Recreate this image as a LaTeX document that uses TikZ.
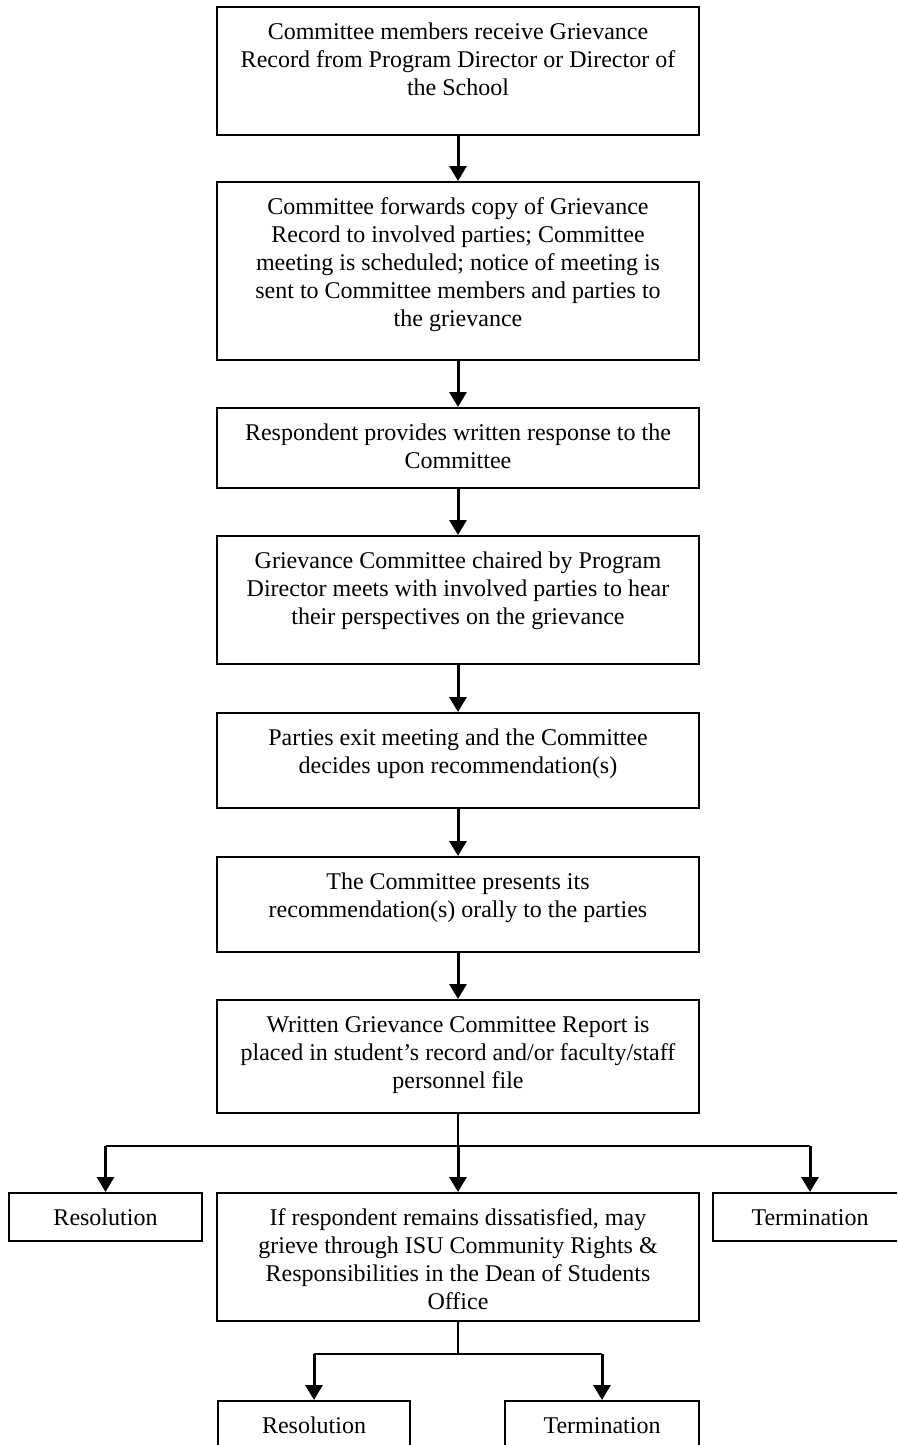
\documentclass[tikz,border=0pt]{standalone}
\usepackage{fontspec}
\setmainfont{Liberation Serif}
\usetikzlibrary{arrows.meta,calc}
\newcommand{\toprule}{\vrule height 18pt depth 0pt width 0pt}
\begin{document}
\begin{tikzpicture}[x=1pt,y=-1pt,
  box/.style={draw, line width=2pt, inner sep=0pt, anchor=north west},
  txt/.style={align=center, anchor=north, inner sep=0pt, font=\fontsize{24}{28}\selectfont},
  arr/.style={line width=3pt, -{Triangle[width=17pt,length=15pt]}},
  ln/.style={line width=2.6pt}]
\useasboundingbox (0,0) rectangle (897,1445);
\clip (0,0) rectangle (897,1445);
% main column boxes
\node[box, minimum width=482pt, minimum height=128pt] (b1) at (216,6) {};
\node[box, minimum width=482pt, minimum height=178pt] (b2) at (216,181) {};
\node[box, minimum width=482pt, minimum height=80pt]  (b3) at (216,407) {};
\node[box, minimum width=482pt, minimum height=128pt] (b4) at (216,535) {};
\node[box, minimum width=482pt, minimum height=95pt]  (b5) at (216,712) {};
\node[box, minimum width=482pt, minimum height=95pt]  (b6) at (216,856) {};
\node[box, minimum width=482pt, minimum height=113pt] (b7) at (216,999) {};
\node[box, minimum width=482pt, minimum height=128pt] (b8) at (216,1192) {};
\node[box, minimum width=193pt, minimum height=48pt]  (r1) at (8,1192) {};
\node[box, minimum width=194pt, minimum height=48pt]  (m1) at (712,1192) {};
\node[box, minimum width=192pt, minimum height=80pt]  (r2) at (217,1400) {};
\node[box, minimum width=194pt, minimum height=80pt]  (m2) at (504,1400) {};
% texts
\node[txt] (t1) at ($(b1.north)+(0,15)$) {\toprule Committee members receive Grievance\\Record from Program Director or Director of\\the School};
\node[txt] (t2) at ($(b2.north)+(0,15)$) {\toprule Committee forwards copy of Grievance\\Record to involved parties; Committee\\meeting is scheduled; notice of meeting is\\sent to Committee members and parties to\\the grievance};
\node[txt] (t3) at ($(b3.north)+(0,15)$) {\toprule Respondent provides written response to the\\Committee};
\node[txt] (t4) at ($(b4.north)+(0,15)$) {\toprule Grievance Committee chaired by Program\\Director meets with involved parties to hear\\their perspectives on the grievance};
\node[txt] (t5) at ($(b5.north)+(0,15)$) {\toprule Parties exit meeting and the Committee\\decides upon recommendation(s)};
\node[txt] (t6) at ($(b6.north)+(0,15)$) {\toprule The Committee presents its\\recommendation(s) orally to the parties};
\node[txt] (t7) at ($(b7.north)+(0,15)$) {\toprule Written Grievance Committee Report is\\placed in student’s record and/or faculty/staff\\personnel file};
\node[txt] (t8) at ($(b8.north)+(0,15)$) {\toprule If respondent remains dissatisfied, may\\grieve through ISU Community Rights \&\\Responsibilities in the Dean of Students\\Office};
\node[txt] (tr1) at ($(r1.north)+(0,15)$) {\toprule Resolution};
\node[txt] (tm1) at ($(m1.north)+(0,15)$) {\toprule Termination};
\node[txt] (tr2) at ($(r2.north)+(0,15)$) {\toprule Resolution};
\node[txt] (tm2) at ($(m2.north)+(0,15)$) {\toprule Termination};
% connectors
\draw[arr] (b1.south) -- (b2.north);
\draw[arr] (b2.south) -- (b3.north);
\draw[arr] (b3.south) -- (b4.north);
\draw[arr] (b4.south) -- (b5.north);
\draw[arr] (b5.south) -- (b6.north);
\draw[arr] (b6.south) -- (b7.north);
\coordinate (j1) at ($(b7.south)+(0,32)$);
\coordinate (j2) at ($(b8.south)+(0,32)$);
\draw[ln] (b7.south) -- (j1);
\draw[ln] (r1.north |- j1) -- (m1.north |- j1);
\draw[arr] (j1) -- (b8.north);
\draw[arr] (r1.north |- j1) -- (r1.north);
\draw[arr] (m1.north |- j1) -- (m1.north);
\draw[ln] (b8.south) -- (j2);
\draw[ln] (r2.north |- j2) -- (m2.north |- j2);
\draw[arr] (r2.north |- j2) -- (r2.north);
\draw[arr] (m2.north |- j2) -- (m2.north);
\end{tikzpicture}
\end{document}
